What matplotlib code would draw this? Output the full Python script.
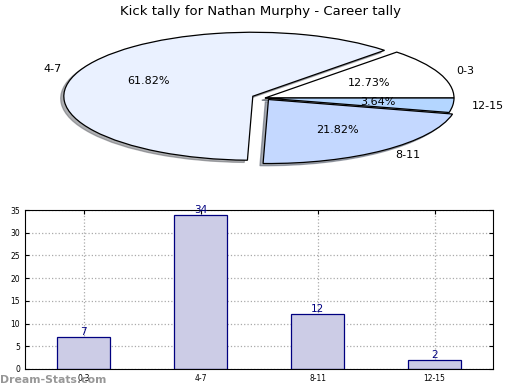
import matplotlib
matplotlib.use('Agg')
import matplotlib.pyplot as plt
import numpy as np

# data
labels = ['0-3', '4-7', '8-11', '12-15']
counts = [7, 34, 12, 2]
pie_colors = ['#ffffff', '#eaf1ff', '#c4d8ff', '#b4d6ff']
explode = [0, 0.07, 0.03, 0]

fig = plt.figure(figsize=(5.2, 3.9), dpi=100)
W, H = 520.0, 390.0

# pie axes (squashed so the pie is drawn as an ellipse)
cx, cy = 265.0, 98.0
rx, ry = 189.0, 64.0
ax1 = fig.add_axes([(cx - 250) / W, (H - cy - 90) / H, 500 / W, 180 / H])
wedges, texts, autotexts = ax1.pie(counts, labels=labels, colors=pie_colors,
                                   explode=explode, autopct='%1.2f%%',
                                   shadow={'ox': -0.012, 'oy': -0.025, 'shade': 0.6},
                                   startangle=0,
                                   wedgeprops={'edgecolor': 'black', 'linewidth': 0.9},
                                   textprops={'fontsize': 8})
ax1.set_aspect('auto')
ax1.set_xlim(-250 / rx, 250 / rx)
ax1.set_ylim(-90 / ry, 90 / ry)
ax1.axis('off')
fig.text(0.5, 1 - 11 / H, 'Kick tally for Nathan Murphy - Career tally',
         ha='center', va='center', fontsize=9.5)

# bar chart
ax2 = fig.add_axes([25 / W, (H - 369) / H, 468 / W, 159 / H])
x = np.arange(len(labels))
ax2.bar(x, counts, width=0.45, color='#ccccE6', edgecolor='navy',
        linewidth=0.9, align='center', zorder=2)
for xi, v in zip(x, counts):
    ax2.text(xi, v, str(v), ha='center', va='bottom', color='navy', fontsize=7.5)
ax2.set_xlim(-0.5, 3.5)
ax2.set_ylim(0, 35)
ax2.set_yticks(np.arange(0, 36, 5))
ax2.set_xticks(x)
ax2.set_xticklabels(labels)
ax2.tick_params(labelsize=5.5, direction='in', top=True, right=True, length=3)
ax2.grid(True, linestyle=':', color='#aaaaaa', linewidth=0.9, zorder=0)
ax2.set_ylabel('Stat Intervals', fontsize=7.5, labelpad=6)
ax2.set_xlabel('Frequency', fontsize=7.5, labelpad=6)

fig.text(0, 10 / H, 'Dream-Stats.com', color='#8c8c8c', fontsize=7.8,
         fontweight='bold', ha='left', va='center', alpha=0.9)

fig.savefig('out.png', dpi=100)
